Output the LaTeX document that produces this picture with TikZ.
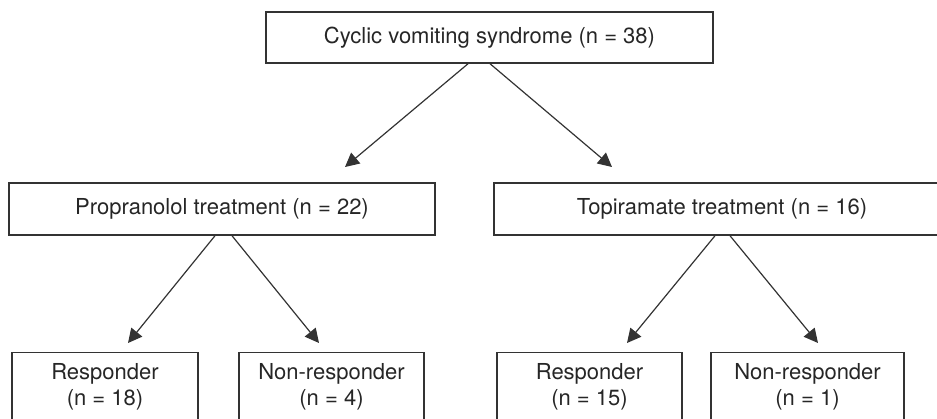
\documentclass[tikz,border=0pt]{standalone}
\usepackage{fontspec}
\setmainfont{TeX Gyre Heros}
\usetikzlibrary{arrows.meta}
\definecolor{linecol}{HTML}{333333}
\definecolor{txtcol}{HTML}{262626}
\begin{document}
\begin{tikzpicture}[x=0.75pt,y=-0.75pt,
  box/.style={draw=linecol, line width=1.1pt, rectangle, inner sep=0pt, text=txtcol,
    font=\fontsize{16.5}{19.5}\selectfont},
  lbl/.style={inner sep=0pt, text=txtcol, align=center, font=\fontsize{16.5}{19.5}\selectfont},
  arr/.style={draw=linecol, line width=0.9pt, -{Triangle[length=10.5pt,width=10.5pt]}}]
\useasboundingbox (0,0) rectangle (937,418);
% top
\node[box, minimum width=447*0.75pt, minimum height=51*0.75pt] (cvs) at (489.5,37.5) {Cyclic vomiting syndrome (n = 38)};
% middle
\node[box, minimum width=426*0.75pt, minimum height=52*0.75pt] (prop) at (222,209) {Propranolol treatment (n = 22)};
\node[box, minimum width=456*0.75pt, minimum height=52*0.75pt] (topi) at (722,209) {Topiramate treatment (n = 16)};
% bottom boxes
\node[box, minimum width=186*0.75pt, minimum height=90*0.75pt, anchor=north] (r1) at (105,352) {};
\node[box, minimum width=185*0.75pt, minimum height=90*0.75pt, anchor=north] (n1) at (331.5,352) {};
\node[box, minimum width=185*0.75pt, minimum height=90*0.75pt, anchor=north] (r2) at (589.5,352) {};
\node[box, minimum width=193*0.75pt, minimum height=90*0.75pt, anchor=north] (n2) at (807.5,352) {};
\node[lbl] (r1t) at (105,386.5) {Responder\\(n = 18)};
\node[lbl] (n1t) at (331.5,386.5) {Non-responder\\(n = 4)};
\node[lbl] (r2t) at (589.5,386.5) {Responder\\(n = 15)};
\node[lbl] (n2t) at (807.5,386.5) {Non-responder\\(n = 1)};
% arrow end points
\coordinate (a1) at (345,167);
\coordinate (a2) at (612,167);
\coordinate (b1) at (128,343);
\coordinate (b2) at (319,343);
\coordinate (c1) at (627,343);
\coordinate (c2) at (818,343);
% arrows
\draw[arr] ([xshift=-16.1pt]cvs.south) -- (a1);
\draw[arr] ([xshift=0.4pt]cvs.south) -- (a2);
\draw[arr] ([xshift=-5.25pt]prop.south) -- (b1);
\draw[arr] ([xshift=7.5pt]prop.south) -- (b2);
\draw[arr] ([xshift=-5.25pt]topi.south) -- (c1);
\draw[arr] ([xshift=6pt]topi.south) -- (c2);
\end{tikzpicture}
\end{document}
